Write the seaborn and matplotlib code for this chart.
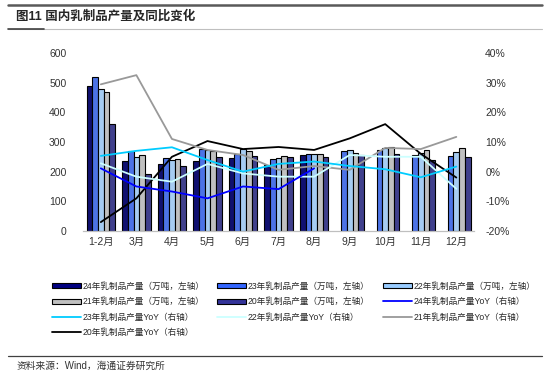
import numpy as np
import pandas as pd
import matplotlib
matplotlib.use("Agg")
import matplotlib.pyplot as plt
import seaborn as sns
from matplotlib.patches import Patch
from matplotlib.lines import Line2D
from matplotlib.ticker import FuncFormatter

months = ["1-2月", "3月", "4月", "5月", "6月", "7月", "8月", "9月", "10月", "11月", "12月"]

# production, 10k tons (left axis)
prod_24 = [487, 237, 226, 237, 245, 222, 257, np.nan, np.nan, np.nan, np.nan]
prod_23 = [520, 268, 246, 275, 258, 244, 258, 269, 273, 257, 254]
prod_22 = [480, 250, 238, 273, 275, 247, 258, 273, 278, 262, 265]
prod_21 = [467, 256, 244, 268, 268, 251, 258, 262, 282, 273, 278]
prod_20 = [360, 193, 220, 250, 254, 250, 249, 256, 259, 239, 250]

# YoY, % (right axis)
yoy_24 = [1.1, -5.0, -6.7, -9.0, -5.0, -5.9, 1.1, np.nan, np.nan, np.nan, np.nan]
yoy_23 = [5.3, 7.0, 8.2, 3.9, 0.0, 2.6, 3.4, 1.9, 0.8, -1.9, 1.7]
yoy_22 = [2.8, -1.7, -3.4, 2.6, -0.6, -1.7, -1.7, 5.6, 5.0, 5.0, -5.8]
yoy_21 = [29.4, 32.5, 11.0, 7.3, 5.6, 0.6, 1.9, 0.6, 8.0, 7.6, 11.7]
yoy_20 = [-17.0, -9.0, 5.0, 10.3, 7.6, 8.3, 7.3, 11.2, 16.0, 6.0, -2.0]

bar_names = ["24年乳制品产量（万吨，左轴）", "23年乳制品产量（万吨，左轴）", "22年乳制品产量（万吨，左轴）",
             "21年乳制品产量（万吨，左轴）", "20年乳制品产量（万吨，左轴）"]
line_names = ["24年乳制品产量YoY（右轴）", "23年乳制品产量YoY（右轴）", "22年乳制品产量YoY（右轴）",
              "21年乳制品产量YoY（右轴）", "20年乳制品产量YoY（右轴）"]
bar_colors = ["#000080", "#3366FF", "#99CCFF", "#C0C0C0", "#333399"]
line_colors = ["#0000FF", "#00CCFF", "#CCFFFF", "#999999", "#000000"]

bars = pd.DataFrame({"month": months * 5,
                     "series": np.repeat(bar_names, len(months)),
                     "value": prod_24 + prod_23 + prod_22 + prod_21 + prod_20})
lines = pd.DataFrame({"month": months * 5,
                      "series": np.repeat(line_names, len(months)),
                      "value": yoy_24 + yoy_23 + yoy_22 + yoy_21 + yoy_20})

sns.set_style("white")
plt.rcParams["font.family"] = ["Liberation Sans", "Noto Sans CJK SC"]

fig = plt.figure(figsize=(5.5, 3.75), dpi=100)
ax = fig.add_axes([0.151, 0.384, 0.711, 0.475])

sns.barplot(data=bars, x="month", y="value", hue="series", hue_order=bar_names,
            palette=bar_colors, width=0.8, edgecolor="black", linewidth=0.8,
            errorbar=None, legend=False, ax=ax)

ax2 = ax.twinx()
for name, col in zip(line_names[::-1], line_colors[::-1]):
    sub = lines[lines["series"] == name]
    sns.pointplot(data=sub, x="month", y="value", order=months, color=col,
                  markers="", linewidth=1.3, errorbar=None, ax=ax2)

ax.set_ylim(0, 600)
ax.set_yticks(range(0, 601, 100))
ax2.set_ylim(-20, 40)
ax2.set_yticks(range(-20, 41, 10))
ax2.yaxis.set_major_formatter(FuncFormatter(lambda v, p: f"{int(v)}%"))
ax.set_xlim(-0.5, len(months) - 0.5)

for a in (ax, ax2):
    a.set_xlabel("")
    a.set_ylabel("")
    for s in ("top", "left", "right"):
        a.spines[s].set_visible(False)
    a.spines["bottom"].set_color("#BFBFBF")
    a.tick_params(length=0, labelsize=7.5, colors="#333333")
ax.tick_params(axis="y", pad=12)
ax2.tick_params(axis="y", pad=8)
ax.tick_params(axis="x", pad=4)

# legend, row-wise order in 3 columns
bh = [Patch(facecolor=c, edgecolor="black", linewidth=0.8) for c in bar_colors]
lh = [Line2D([], [], color=c, lw=1.3) for c in line_colors]
labels_all = bar_names + line_names
handles_all = bh + lh
order = [0, 3, 6, 9, 1, 4, 7, 2, 5, 8]
fig.legend([handles_all[i] for i in order], [labels_all[i] for i in order],
           loc="upper left", bbox_to_anchor=(0.088, 0.258), ncol=3, frameon=False,
           fontsize=6.2, handlelength=3.4, handleheight=0.55, handletextpad=0.15,
           columnspacing=1.5, labelspacing=0.75, borderaxespad=0)

# title and frame lines
fig.add_artist(Line2D([0.015, 0.985], [0.988, 0.988], color="#595959", lw=1.8))
fig.add_artist(Line2D([0.015, 0.985], [0.924, 0.924], color="#BFBFBF", lw=0.8))
fig.add_artist(Line2D([0.015, 0.08], [0.924, 0.924], color="#404040", lw=1.2))
fig.text(0.03, 0.955, "图11 国内乳制品产量及同比变化", fontsize=9, fontweight="bold",
         va="center", ha="left")
fig.add_artist(Line2D([0.015, 0.985], [0.051, 0.051], color="#404040", lw=0.9))
fig.text(0.03, 0.025, "资料来源：Wind，海通证券研究所", fontsize=7, va="center", ha="left",
         color="#333333")

fig.savefig("out.png", dpi=100)
